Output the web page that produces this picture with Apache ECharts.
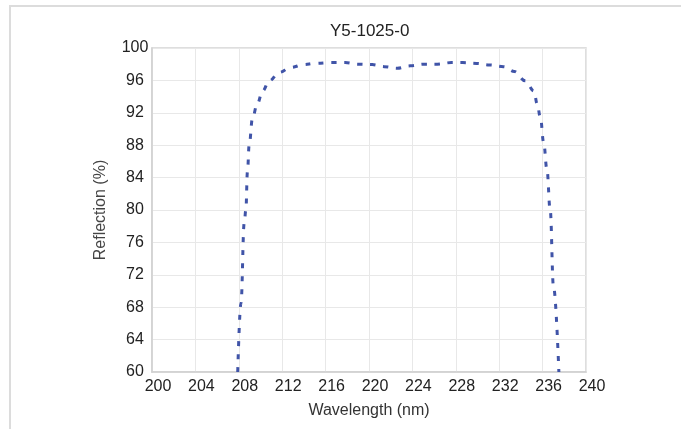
<!DOCTYPE html>
<html>
<head>
<meta charset="utf-8">
<script src="https://cdn.jsdelivr.net/npm/echarts@6/dist/echarts.min.js"></script>
<style>html,body{margin:0;padding:0;background:#fff;}#c{width:681px;height:429px;}</style>
</head>
<body>
<div id="c"></div>
<script>
var titleText = 'Y5-1025-0';
var xName = 'Wavelength (nm)';
var yName = 'Reflection (%)';
var wavelength = [207.9, 208.2, 208.5, 208.65, 208.8, 208.96, 209.27, 209.7, 210.2, 210.8, 211.75, 212.8, 214.0, 215.0, 216.6, 217.8, 219.0, 220.3, 221.4, 222.6, 223.8, 225.1, 226.3, 227.6, 228.65, 229.9, 231.1, 232.4, 233.4, 234.4, 235.2, 235.5, 235.8, 236.1, 236.4, 236.7, 237.0, 237.5];
var reflection = [60, 68.5, 78.4, 80.0, 84.8, 88.1, 91.4, 93.1, 94.7, 95.95, 97.0, 97.6, 97.95, 98.1, 98.2, 98.2, 98.0, 97.95, 97.7, 97.5, 97.8, 98.0, 98.0, 98.2, 98.2, 98.1, 97.9, 97.7, 97.1, 95.95, 94.7, 93.1, 91.4, 88.3, 85.0, 80.0, 70.6, 60];

var pts = wavelength.map(function (w, i) { return [w, reflection[i]]; });
var chart = echarts.init(document.getElementById('c'), null, {renderer: 'canvas'});
var font = 'Liberation Sans, Arial, sans-serif';
chart.setOption({
  animation: false,
  backgroundColor: '#fff',
  title: {
    text: titleText, left: 330, top: 23, padding: 0,
    textStyle: {fontFamily: font, fontSize: 17, fontWeight: 'normal', color: '#222'}
  },
  graphic: [
    {type: 'line', shape: {x1: 10, y1: 6, x2: 10, y2: 429}, style: {stroke: '#dcdcdc', lineWidth: 2}},
    {type: 'line', shape: {x1: 9, y1: 6, x2: 681, y2: 6}, style: {stroke: '#dcdcdc', lineWidth: 2}}
  ],
  grid: {left: 152, right: 95, top: 48, bottom: 57, show: true, borderColor: '#d4d4d4', borderWidth: 1.5},
  xAxis: {
    type: 'value', min: 200, max: 240, interval: 4,
    name: xName, nameLocation: 'middle', nameGap: 31,
    nameTextStyle: {fontFamily: font, fontSize: 16, color: '#333'},
    axisLine: {show: true, lineStyle: {color: '#d0d0d0', width: 1.5}},
    axisTick: {show: false},
    axisLabel: {fontFamily: font, fontSize: 16, color: '#222', margin: 7, padding: [0, 0, 0, 12]},
    splitLine: {show: true, lineStyle: {color: '#e8e8e8', width: 1}}
  },
  yAxis: {
    type: 'value', min: 60, max: 100, interval: 4,
    name: yName, nameLocation: 'middle', nameGap: 43,
    nameTextStyle: {fontFamily: font, fontSize: 16, color: '#444'},
    axisLine: {show: true, lineStyle: {color: '#d0d0d0', width: 1.5}},
    axisTick: {show: false},
    axisLabel: {fontFamily: font, fontSize: 16, color: '#222', margin: 17, align: 'center'},
    splitLine: {show: true, lineStyle: {color: '#e8e8e8', width: 1}}
  },
  series: [{
    type: 'line', data: pts, smooth: 0.4, smoothMonotone: 'x', symbol: 'none', clip: true,
    lineStyle: {color: '#4054a8', width: 3, type: [5, 8]}
  }]
});
</script>
</body>
</html>
